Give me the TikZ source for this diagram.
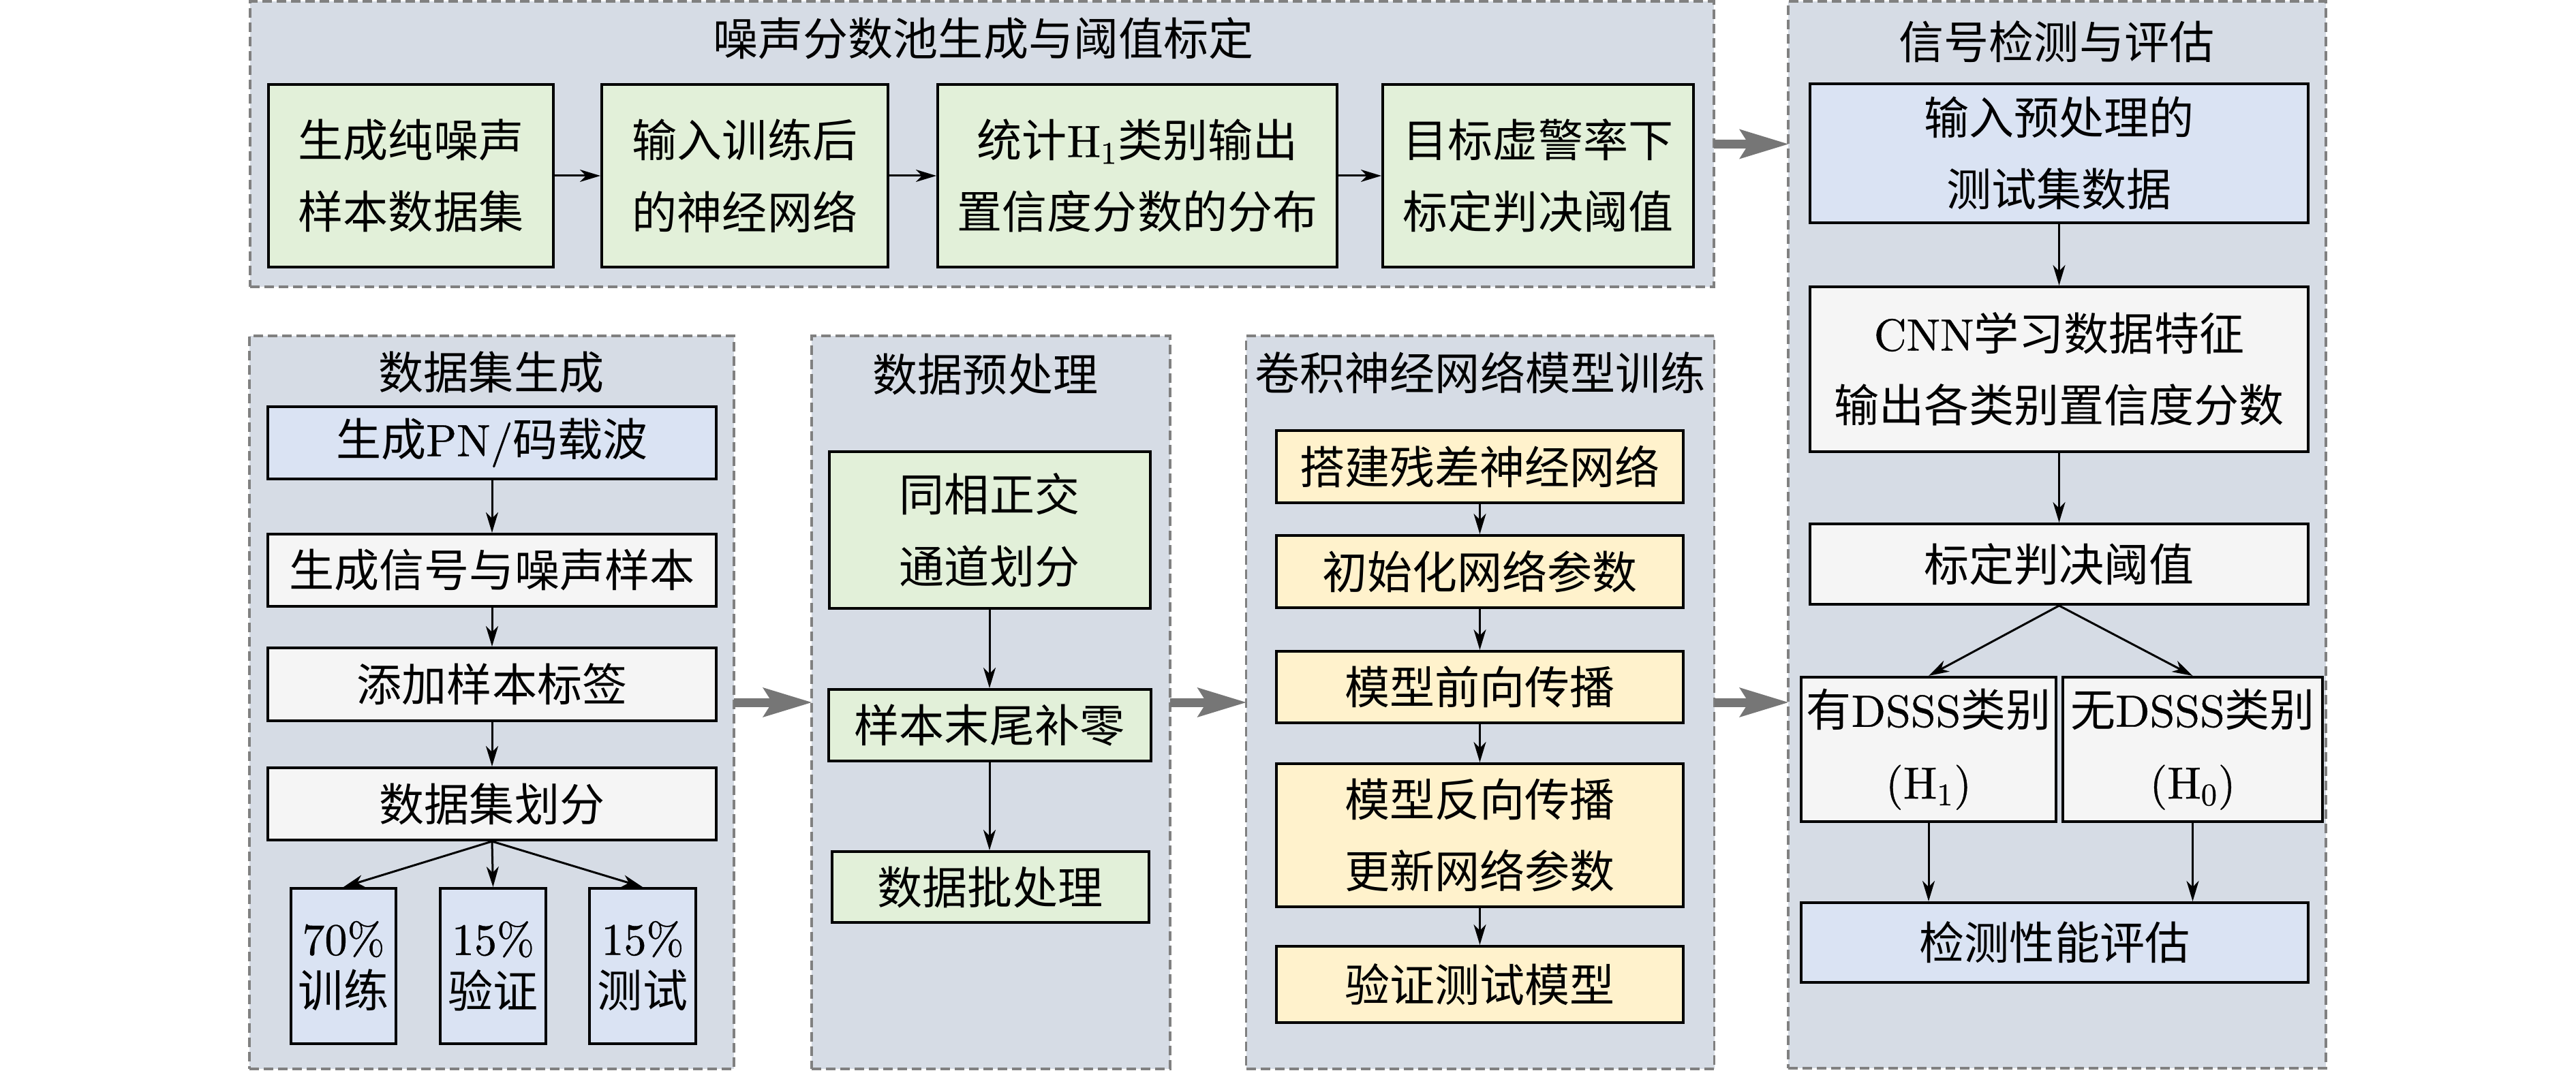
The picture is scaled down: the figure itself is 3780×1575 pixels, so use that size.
\documentclass[tikz,border=0pt]{standalone}
\usepackage{fontspec}
\usepackage{graphicx}
\newfontfamily\cjk{Noto Sans CJK SC}
\newfontfamily\lmfont[Extension=.otf, FakeBold=0.6]{lmroman10-regular}
\usetikzlibrary{arrows.meta}
\definecolor{panelc}{HTML}{D6DCE5}
\definecolor{greenc}{HTML}{E2F0D9}
\definecolor{bluec}{HTML}{DAE3F3}
\definecolor{grayc}{HTML}{F5F5F5}
\definecolor{yellowc}{HTML}{FFF2CC}
\definecolor{dashc}{HTML}{808080}
\definecolor{bigarrowc}{HTML}{767676}
\newcommand{\lmtext}[1]{{\lmfont #1}}
\begin{document}
\begin{tikzpicture}[x=0.1mm,y=-0.1mm,
  panel/.style={draw=dashc, fill=panelc, line width=0.35mm, dash pattern=on 1.4mm off 0.7mm, inner sep=0pt, outer sep=0pt},
  ptitle/.style={inner sep=0pt, font={\cjk\fontsize{18.8pt}{30pt}\selectfont}},
  box/.style={draw=black, line width=0.4mm, inner sep=0pt, align=center, font={\cjk\fontsize{18.8pt}{30pt}\selectfont}},
  gbox/.style={box, fill=greenc},
  bbox/.style={box, fill=bluec},
  wbox/.style={box, fill=grayc},
  ybox/.style={box, fill=yellowc},
  smallbox/.style={bbox, font={\cjk\fontsize{18.8pt}{22pt}\selectfont}},
  arr/.style={-{Stealth[length=3mm,width=1.8mm,inset=0.9mm]}, line width=0.3mm},
  bigarr/.style={-{Stealth[length=7.2mm,width=4.4mm,inset=1.4mm,line width=0pt]}, line width=1.3mm, draw=bigarrowc, fill=bigarrowc}
]
\useasboundingbox (0,0) rectangle (3780,1575);

% panels
\node[panel, minimum width=214.8mm, minimum height=41.9mm] (P1) at (1441,211.5) {};
\node[panel, minimum width=71.1mm, minimum height=107.6mm] (P2) at (721.5,1031) {};
\node[panel, minimum width=52.6mm, minimum height=107.6mm] (P3) at (1454,1031) {};
\node[panel, minimum width=68.7mm, minimum height=107.6mm] (P4) at (2172,1031) {};
\node[panel, minimum width=78.9mm, minimum height=156.6mm] (P5) at (3018.5,785) {};

% titles
\node[ptitle] (T1) at (1443,56) {噪声分数池生成与阈值标定};
\node[ptitle] (T2) at (721,547) {数据集生成};
\node[ptitle] (T3) at (1446,549) {数据预处理};
\node[ptitle] (T4) at (2172,547) {卷积神经网络模型训练};
\node[ptitle] (T5) at (3018,61) {信号检测与评估};

% top panel boxes
\node[gbox, minimum width=41.8mm, minimum height=26.8mm] (A1) at (603,258) {生成纯噪声\\样本数据集};
\node[gbox, minimum width=42.0mm, minimum height=26.8mm] (A2) at (1093,258) {输入训练后\\的神经网络};
\node[gbox, minimum width=58.6mm, minimum height=26.8mm] (A3) at (1669,258) {统计\lmtext{H\textsubscript{1}}类别输出\\置信度分数的分布};
\node[gbox, minimum width=45.6mm, minimum height=26.8mm] (A4) at (2257,258) {目标虚警率下\\标定判决阈值};

% dataset generation
\node[bbox, minimum width=65.8mm, minimum height=10.6mm] (B1) at (722,650) {生成\lmtext{PN/}码载波};
\node[wbox, minimum width=65.8mm, minimum height=10.6mm] (B2) at (722,837) {生成信号与噪声样本};
\node[wbox, minimum width=65.8mm, minimum height=10.7mm] (B3) at (722,1004.5) {添加样本标签};
\node[wbox, minimum width=65.8mm, minimum height=10.6mm] (B4) at (722,1180) {数据集划分};
\node[smallbox, minimum width=15.4mm, minimum height=22.8mm] (S1) at (504,1418) {\lmtext{70\%}\\训练};
\node[smallbox, minimum width=15.5mm, minimum height=22.8mm] (S2) at (723.5,1418) {\lmtext{15\%}\\验证};
\node[smallbox, minimum width=15.6mm, minimum height=22.8mm] (S3) at (943,1418) {\lmtext{15\%}\\测试};

% preprocessing
\node[gbox, minimum width=47.1mm, minimum height=23.0mm] (C1) at (1452,778) {同相正交\\通道划分};
\node[gbox, minimum width=47.3mm, minimum height=10.5mm] (C2) at (1452,1064.5) {样本末尾补零};
\node[gbox, minimum width=46.5mm, minimum height=10.4mm] (C3) at (1453,1302) {数据批处理};

% CNN training
\node[ybox, minimum width=59.7mm, minimum height=10.6mm] (D1) at (2171.5,685) {搭建残差神经网络};
\node[ybox, minimum width=59.7mm, minimum height=10.6mm] (D2) at (2171.5,839) {初始化网络参数};
\node[ybox, minimum width=59.7mm, minimum height=10.5mm] (D3) at (2171.5,1008.5) {模型前向传播};
\node[ybox, minimum width=59.7mm, minimum height=21.0mm] (D4) at (2171.5,1226) {模型反向传播\\更新网络参数};
\node[ybox, minimum width=59.7mm, minimum height=11.2mm] (D5) at (2171.5,1445) {验证测试模型};

% detection and evaluation
\node[bbox, minimum width=73.1mm, minimum height=20.4mm] (E1) at (3021.5,225) {输入预处理的\\测试集数据};
\node[wbox, minimum width=73.1mm, minimum height=24.2mm] (E2) at (3021.5,542) {\lmtext{CNN}学习数据特征\\输出各类别置信度分数};
\node[wbox, minimum width=73.1mm, minimum height=11.8mm] (E3) at (3021.5,828) {标定判决阈值};
\node[wbox, minimum width=37.4mm, minimum height=21.2mm] (E4) at (2830,1100) {有\lmtext{DSSS}类别\\\lmtext{(H\textsubscript{1})}};
\node[wbox, minimum width=38.1mm, minimum height=21.2mm] (E5) at (3217.5,1100) {无\lmtext{DSSS}类别\\\lmtext{(H\textsubscript{0})}};
\node[bbox, minimum width=74.4mm, minimum height=11.7mm] (E6) at (3015,1383.5) {检测性能评估};

% black arrows
\draw[arr] (A1) -- (A2);
\draw[arr] (A2) -- (A3);
\draw[arr] (A3) -- (A4);
\draw[arr] (B1) -- (B2);
\draw[arr] (B2) -- (B3);
\draw[arr] (B3) -- (B4);
\draw[arr] (B4.south) -- (S1.north);
\draw[arr] (B4.south) -- (S2.north);
\draw[arr] (B4.south) -- (S3.north);
\draw[arr] (C1.south) -- (C1.south |- C2.north);
\draw[arr] (C2.south) -- (C2.south |- C3.north);
\draw[arr] (D1) -- (D2);
\draw[arr] (D2) -- (D3);
\draw[arr] (D3) -- (D4);
\draw[arr] (D4) -- (D5);
\draw[arr] (E1) -- (E2);
\draw[arr] (E2) -- (E3);
\draw[arr] (E3.south) -- (E4.north);
\draw[arr] (E3.south) -- (E5.north);
\draw[arr] (E4.south) -- (E4.south |- E6.north);
\draw[arr] (E5.south) -- (E5.south |- E6.north);

% gray arrows between panels
\draw[bigarr] (P1.east) -- (P1.east -| P5.west);
\draw[bigarr] (P2.east) -- (P2.east -| P3.west);
\draw[bigarr] (P3.east) -- (P3.east -| P4.west);
\draw[bigarr] (P4.east) -- (P4.east -| P5.west);
\end{tikzpicture}
\end{document}
